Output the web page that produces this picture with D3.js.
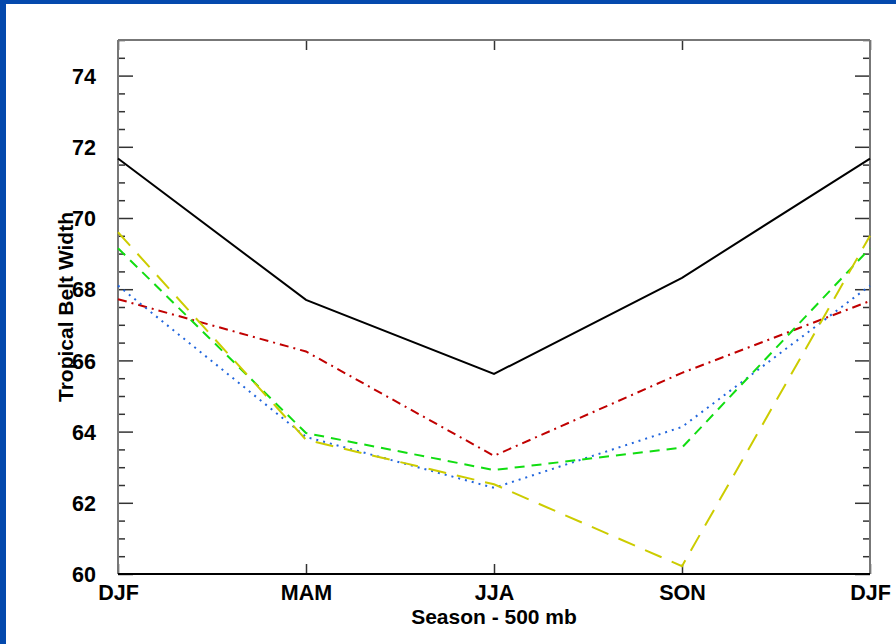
<!DOCTYPE html>
<html>
<head>
<meta charset="utf-8">
<script src="https://cdn.jsdelivr.net/npm/d3@7"></script>
<style>
  body { margin: 0; background: #fff; }
  svg text { font-family: "Liberation Sans", Arial, Helvetica, sans-serif; font-weight: bold; fill: #000; }
</style>
</head>
<body>
<div class="container"></div>
<script>
// seasons along x (DJF repeated to close the annual cycle)
let seasons = ["DJF", "MAM", "JJA", "SON", "DJF2"];
let seasonLabels = ["DJF", "MAM", "JJA", "SON", "DJF"];

// tropical belt width per season, one array per curve
let blackVals  = [71.67, 67.7, 65.62, 68.32, 71.67];
let redVals    = [67.72, 66.25, 63.32, 65.65, 67.67];
let blueVals   = [68.1, 63.85, 62.42, 64.13, 68.1];
let greenVals  = [69.15, 63.96, 62.92, 63.55, 69.15];
let yellowVals = [69.6, 63.77, 62.52, 60.22, 69.5];

let yMajor = [60, 62, 64, 66, 68, 70, 72, 74];

let W = 896, H = 644;
let margin = {top: 40, right: 26, bottom: 70, left: 118},
  width = W - margin.left - margin.right,
  height = H - margin.top - margin.bottom;

let svg = d3.select(".container").append("svg")
    .attr("width", W)
    .attr("height", H);

// blue frame strips of the slide
svg.append("rect").attr("x", 0).attr("y", 0).attr("width", W).attr("height", 4).attr("fill", "#0449ad");
svg.append("rect").attr("x", 0).attr("y", 0).attr("width", 6).attr("height", H).attr("fill", "#0449ad");

let g = svg.append("g")
    .attr("transform", "translate(" + margin.left + "," + margin.top + ")");

let x = d3.scalePoint().domain(seasons).range([0, width]);
let y = d3.scaleLinear().domain([60, 75]).range([height, 0]);

let minor = d3.range(60, 75.01, 0.5).filter(v => v % 2 !== 0);

// left axis
g.append("g")
    .call(d3.axisLeft(y).tickValues(minor).tickSize(-7).tickFormat(""))
    .call(a => a.select(".domain").remove());
g.append("g")
    .call(d3.axisLeft(y).tickValues(yMajor).tickSize(-15).tickPadding(22))
    .call(a => a.select(".domain").remove())
    .selectAll("text").style("font-size", "21.5px").attr("dy", "0.36em");

// right axis
g.append("g").attr("transform", "translate(" + width + ",0)")
    .call(d3.axisRight(y).tickValues(minor).tickSize(-7).tickFormat(""))
    .call(a => a.select(".domain").remove());
g.append("g").attr("transform", "translate(" + width + ",0)")
    .call(d3.axisRight(y).tickValues(yMajor).tickSize(-15).tickFormat(""))
    .call(a => a.select(".domain").remove());

// bottom and top axes
g.append("g").attr("transform", "translate(0," + height + ")")
    .call(d3.axisBottom(x).tickSize(-10).tickPadding(11).tickFormat((d, i) => seasonLabels[i]))
    .call(a => a.select(".domain").remove())
    .selectAll("text").style("font-size", "21.5px").attr("dy", "0.71em");
g.append("g")
    .call(d3.axisTop(x).tickSize(-10).tickFormat(""))
    .call(a => a.select(".domain").remove());

g.selectAll(".tick line").attr("stroke", "#333").attr("stroke-width", 1.5);

// plot frame
g.append("line").attr("x1", 0).attr("x2", 0).attr("y1", 0).attr("y2", height).attr("stroke", "#777").attr("stroke-width", 2);
g.append("line").attr("x1", width).attr("x2", width).attr("y1", 0).attr("y2", height).attr("stroke", "#777").attr("stroke-width", 2);
g.append("line").attr("x1", 0).attr("x2", width).attr("y1", 0).attr("y2", 0).attr("stroke", "#777").attr("stroke-width", 2);
g.append("line").attr("x1", 0).attr("x2", width).attr("y1", height).attr("y2", height).attr("stroke", "#000").attr("stroke-width", 2);

let line = d3.line()
    .x((d, i) => x(seasons[i]))
    .y(d => y(d));

let series = [
  {vals: blackVals,  color: "#000000", dash: null,         w: 2},
  {vals: redVals,    color: "#c00000", dash: "9,5,2,5",    w: 2},
  {vals: blueVals,   color: "#2266dd", dash: "2,5",        w: 2},
  {vals: greenVals,  color: "#11dd11", dash: "10,7",       w: 2},
  {vals: yellowVals, color: "#cccc00", dash: "18,11",      w: 2}
];

g.selectAll(".series")
  .data(series)
  .enter().append("path")
    .attr("class", "series")
    .attr("d", d => line(d.vals))
    .attr("fill", "none")
    .attr("stroke", d => d.color)
    .attr("stroke-width", d => d.w)
    .attr("stroke-dasharray", d => d.dash);

// axis titles
svg.append("text")
  .text("Season - 500 mb")
  .attr("text-anchor", "middle")
  .attr("x", margin.left + width / 2)
  .attr("y", 624)
  .style("font-size", "21px");

svg.append("text")
  .text("Tropical Belt Width")
  .attr("text-anchor", "middle")
  .attr("transform", "translate(73," + (margin.top + height / 2) + ") rotate(-90)")
  .style("font-size", "21px");
</script>
</body>
</html>
